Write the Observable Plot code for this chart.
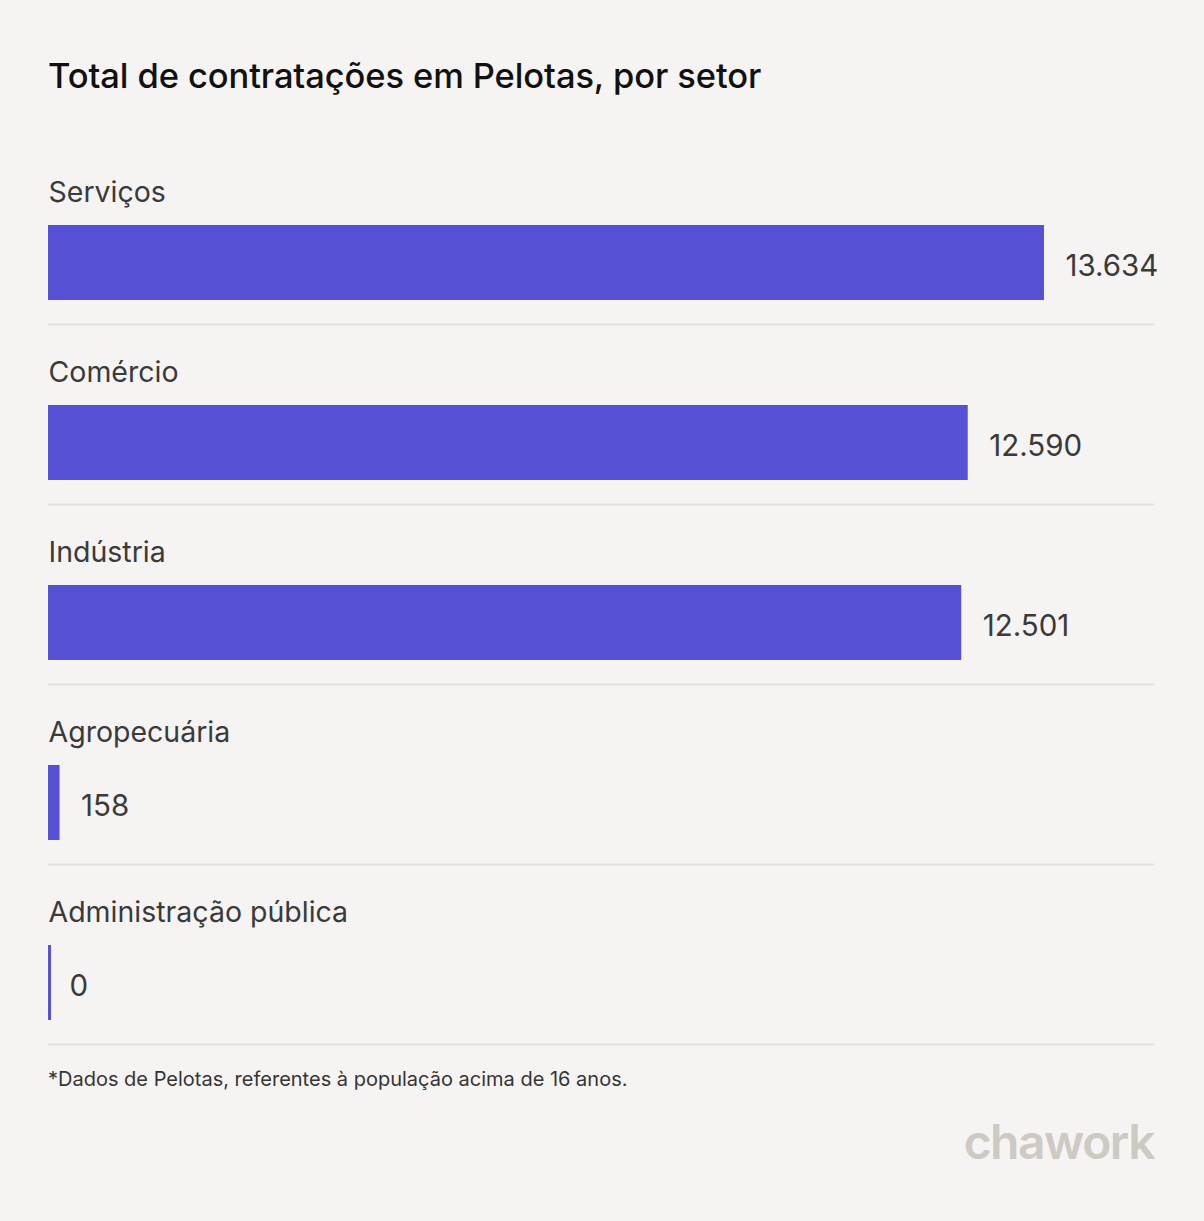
<!DOCTYPE html>
<html>
<head>
<meta charset="utf-8">
<script src="https://cdn.jsdelivr.net/npm/d3@7"></script>
<script src="https://cdn.jsdelivr.net/npm/@observablehq/plot@0.6"></script>
<style>
  html, body { margin: 0; padding: 0; background: #f5f4f2; }
  body { width: 1204px; height: 1221px; position: relative; overflow: hidden; font-family: Inter, "Noto Sans", sans-serif; }
  #title { position: absolute; left: 48px; top: 55px; font-size: 34.5px; font-weight: 500; color: #111; white-space: nowrap; letter-spacing: -0.1px; }
  #chart { position: absolute; left: 0; top: 144px; }
  #note { position: absolute; left: 48px; top: 1067px; font-size: 20px; color: #353535; white-space: nowrap; }
  #logo { position: absolute; right: 50px; top: 1112px; font-size: 48px; font-weight: 600; color: #cdcac4; letter-spacing: -1.5px; }
</style>
</head>
<body>
<div id="title">Total de contratações em Pelotas, por setor</div>
<div id="chart"></div>
<div id="note">*Dados de Pelotas, referentes à população acima de 16 anos.</div>
<div id="logo">chawork</div>
<script>
const categories = ["Serviços", "Comércio", "Indústria", "Agropecuária", "Administração pública"];
const values = [13634, 12590, 12501, 158, 0];
const valueLabels = ["13.634", "12.590", "12.501", "158", "0"];

const data = categories.map((c, i) => ({category: c, value: values[i], label: valueLabels[i]}));

const purple = "#5751d5";

const chart = Plot.plot({
  width: 1204,
  height: 902,
  marginLeft: 48,
  marginRight: 50,
  marginTop: 0,
  marginBottom: 2,
  style: {background: "transparent", fontFamily: "Inter, 'Noto Sans', sans-serif"},
  x: {domain: [0, d3.max(values)], range: [48, 1044], axis: null},
  y: {domain: categories, range: [0, 900], padding: 0, axis: null},
  marks: [
    Plot.ruleY(data, {y: "category", dy: 90, stroke: "#e2e0dc", strokeWidth: 2}),
    // minimum visible bar (3px) so zero values still show a stub
    Plot.barX(data, {x1: 0, x2: 0, y: "category", insetTop: 81, insetBottom: 24, insetRight: -3, fill: purple}),
    Plot.barX(data, {x: "value", y: "category", insetTop: 81, insetBottom: 24, fill: purple}),
    Plot.text(data, {x: 0, y: "category", text: "category", textAnchor: "start", lineAnchor: "middle", dy: -42, fontSize: 28.5, fill: "#3a3a3a"}),
    Plot.text(data, {x: "value", y: "category", text: "label", textAnchor: "start", lineAnchor: "middle", dx: 21, dy: 32, fontSize: 29.5, fill: "#3a3a3a"})
  ]
});
document.getElementById("chart").appendChild(chart);
</script>
</body>
</html>
